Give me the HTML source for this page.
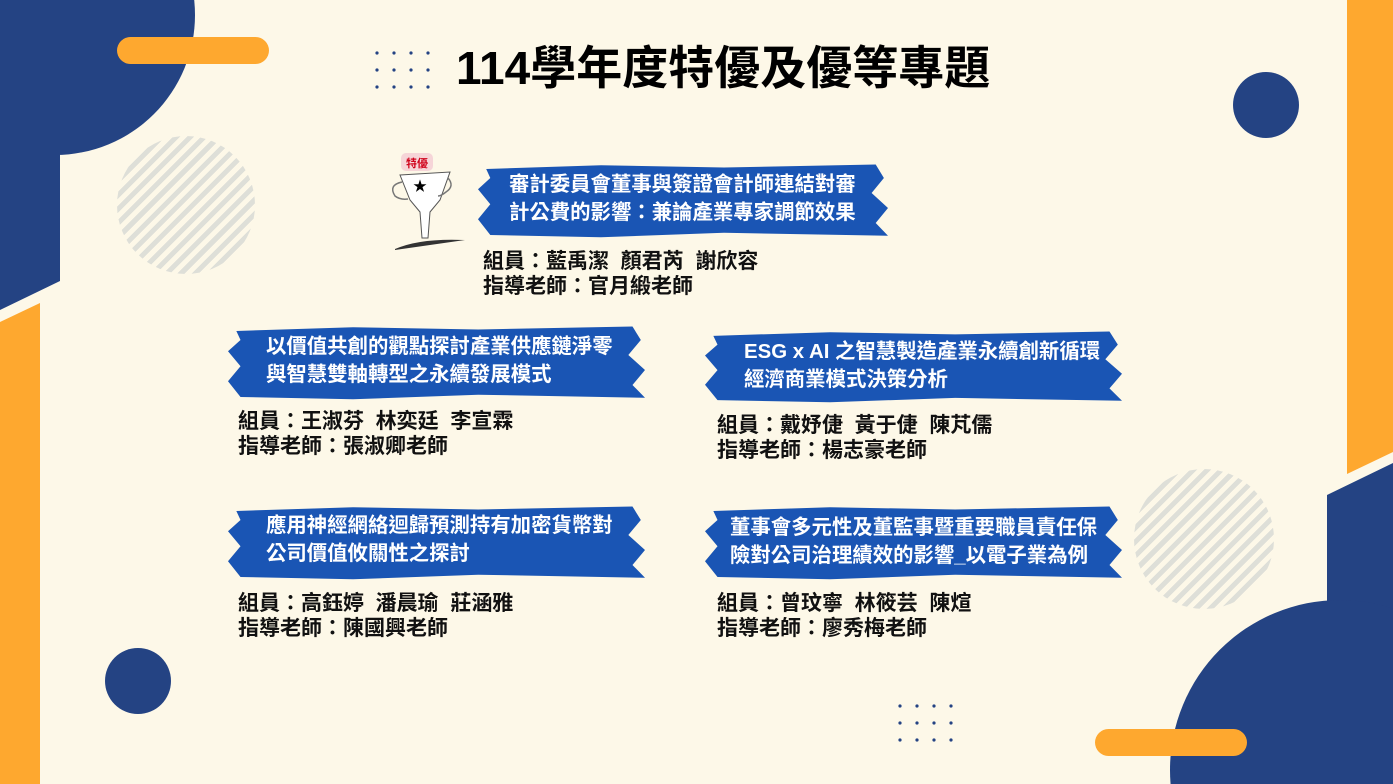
<!DOCTYPE html>
<html><head><meta charset="utf-8"><style>
html,body{margin:0;width:1393px;height:784px;overflow:hidden}
#c{position:relative;width:1393px;height:784px;overflow:hidden;background:#fdf8e8;font-family:"Liberation Sans","Noto Sans CJK TC",sans-serif}
.a{position:absolute}
.ban{position:absolute;background:#1a55b4;clip-path:polygon(2% 8%,30% 3%,60% 6%,97% 2%,99% 20%,96% 40%,100% 60%,97% 80%,100% 97%,60% 93%,30% 99%,3% 96%,0% 75%,3% 55%,0% 35%,3% 20%)}
.bt{position:absolute;color:#fff;font-weight:bold;font-size:20.4px;line-height:28px;white-space:nowrap}
.m{position:absolute;color:#111;font-weight:bold;font-size:21px;line-height:25px;white-space:nowrap}
.hat{position:absolute;border-radius:50%;background:repeating-linear-gradient(135deg,#dedfd8 0 5px,transparent 5px 10px)}
</style></head><body><div id="c">
<svg class="a" style="left:0;top:0" width="1393" height="784">
<circle cx="55" cy="15" r="140" fill="#244383"/>
<polygon points="0,0 60,0 60,281 0,310" fill="#244383"/>
<polygon points="0,322 40,303 40,784 0,784" fill="#fea82f"/>
<polygon points="1347,0 1393,0 1393,452 1347,474" fill="#fea82f"/>
<polygon points="1327,495 1393,463 1393,784 1327,784" fill="#244383"/>
<circle cx="1340" cy="770" r="170" fill="#244383"/>
<rect x="117" y="37" width="152" height="27" rx="13.5" fill="#fea82f"/>
<rect x="1095" y="729" width="152" height="27" rx="13.5" fill="#fea82f"/>
<circle cx="1266" cy="105" r="33" fill="#244383"/>
<circle cx="138" cy="681" r="33" fill="#244383"/>
<g fill="#244383">
<circle cx="377" cy="53" r="1.6"/><circle cx="394" cy="53" r="1.6"/><circle cx="411" cy="53" r="1.6"/><circle cx="428" cy="53" r="1.6"/>
<circle cx="377" cy="70" r="1.6"/><circle cx="394" cy="70" r="1.6"/><circle cx="411" cy="70" r="1.6"/><circle cx="428" cy="70" r="1.6"/>
<circle cx="377" cy="87" r="1.6"/><circle cx="394" cy="87" r="1.6"/><circle cx="411" cy="87" r="1.6"/><circle cx="428" cy="87" r="1.6"/>
<circle cx="900" cy="706" r="1.6"/><circle cx="917" cy="706" r="1.6"/><circle cx="934" cy="706" r="1.6"/><circle cx="951" cy="706" r="1.6"/>
<circle cx="900" cy="723" r="1.6"/><circle cx="917" cy="723" r="1.6"/><circle cx="934" cy="723" r="1.6"/><circle cx="951" cy="723" r="1.6"/>
<circle cx="900" cy="740" r="1.6"/><circle cx="917" cy="740" r="1.6"/><circle cx="934" cy="740" r="1.6"/><circle cx="951" cy="740" r="1.6"/>
</g>
<path d="M400,175 L450,172 L440,200 L430,212 L428,238 L422,238 L420,212 L410,200 Z" fill="#fff" stroke="#555" stroke-width="1"/>
<path d="M402,182 Q388,185 395,196 Q400,200 408,199" fill="none" stroke="#777" stroke-width="1.5"/>
<path d="M448,178 Q455,186 446,192 Q441,196 438,196" fill="none" stroke="#777" stroke-width="1.5"/>
<path d="M395,249 Q420,238 465,240 L395,250Z" fill="#333"/>
<text x="420" y="191" font-size="14" text-anchor="middle" fill="#000">★</text>
<rect x="401" y="153" width="32" height="18" rx="5" fill="#f6d5d8"/>
<text x="417" y="167" font-size="11" font-weight="bold" text-anchor="middle" fill="#d0021b" font-family="Liberation Sans,Noto Sans CJK TC,sans-serif">特優</text>
</svg>
<div class="hat" style="left:117px;top:136px;width:138px;height:138px"></div>
<div class="hat" style="left:1134px;top:469px;width:140px;height:140px"></div>
<div class="a" style="left:456px;top:40px;font-size:46px;font-weight:bold;color:#000;line-height:56px;white-space:nowrap">114學年度特優及優等專題</div>

<div class="ban" style="left:478px;top:163px;width:410px;height:75px"></div>
<div class="bt" style="left:509px;top:171px">審計委員會董事與簽證會計師連結對審<br>計公費的影響：兼論產業專家調節效果</div>
<div class="m" style="left:483px;top:249px">組員：藍禹潔&nbsp; 顏君芮&nbsp; 謝欣容<br>指導老師：官月緞老師</div>

<div class="ban" style="left:228px;top:325px;width:417px;height:75px"></div>
<div class="bt" style="left:266px;top:333px">以價值共創的觀點探討產業供應鏈淨零<br>與智慧雙軸轉型之永續發展模式</div>
<div class="m" style="left:238px;top:409px">組員：王淑芬&nbsp; 林奕廷&nbsp; 李宣霖<br>指導老師：張淑卿老師</div>

<div class="ban" style="left:705px;top:330px;width:417px;height:73px"></div>
<div class="bt" style="left:744px;top:338px">ESG x AI 之智慧製造產業永續創新循環<br>經濟商業模式決策分析</div>
<div class="m" style="left:717px;top:413px">組員：戴妤倢&nbsp; 黃于倢&nbsp; 陳芃儒<br>指導老師：楊志豪老師</div>

<div class="ban" style="left:228px;top:505px;width:417px;height:75px"></div>
<div class="bt" style="left:266px;top:512px">應用神經網絡迴歸預測持有加密貨幣對<br>公司價值攸關性之探討</div>
<div class="m" style="left:238px;top:591px">組員：高鈺婷&nbsp; 潘晨瑜&nbsp; 莊涵雅<br>指導老師：陳國興老師</div>

<div class="ban" style="left:705px;top:505px;width:417px;height:75px"></div>
<div class="bt" style="left:730px;top:514px">董事會多元性及董監事暨重要職員責任保<br>險對公司治理績效的影響_以電子業為例</div>
<div class="m" style="left:717px;top:591px">組員：曾玟寧&nbsp; 林筱芸&nbsp; 陳煊<br>指導老師：廖秀梅老師</div>
</div></body></html>
